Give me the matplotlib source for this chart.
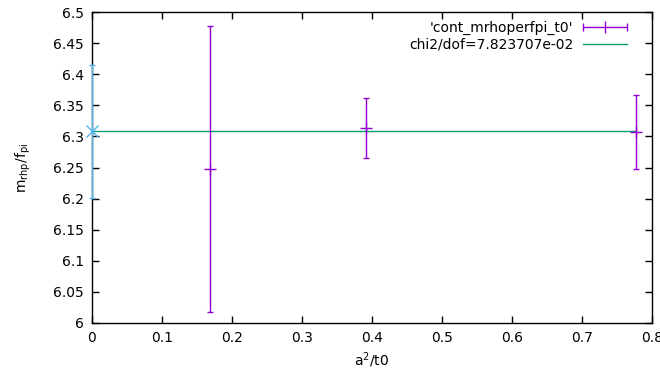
import matplotlib
matplotlib.use("Agg")
import matplotlib.pyplot as plt
from matplotlib.legend_handler import HandlerErrorbar
import numpy as np

x_data = [0.1686, 0.3915, 0.7775]
y_data = [6.248, 6.313, 6.307]
y_err = [0.230, 0.048, 0.060]

x_extrap = [0.0]
y_extrap = [6.308]
err_extrap = [0.107]

fit_x = [0.0, 0.7775]
fit_y = [6.308, 6.308]

xticks = [0, 0.1, 0.2, 0.3, 0.4, 0.5, 0.6, 0.7, 0.8]
yticks = [6, 6.05, 6.1, 6.15, 6.2, 6.25, 6.3, 6.35, 6.4, 6.45, 6.5]

fig = plt.figure(figsize=(6.6, 3.76), dpi=100)
ax = fig.add_axes([92/660, 53/376, 560/660, 311/376])

fit_line, = ax.plot(fit_x, fit_y, color="#009e73", lw=1.0, zorder=2)
ax.errorbar(x_data, y_data, yerr=y_err, fmt="+", color="#9400d3", ms=9, mew=1.0,
            elinewidth=1.0, capsize=2.5, capthick=1.0, zorder=3)
ax.errorbar(x_extrap, y_extrap, yerr=err_extrap, fmt="x", color="#56b4e9", ms=8, mew=1.0,
            elinewidth=1.0, capsize=2.5, capthick=1.0, zorder=4, clip_on=False)

# legend proxy: gnuplot-style horizontal errorbar sample
proxy = ax.errorbar([np.nan], [np.nan], xerr=[0.1], fmt="|", color="#9400d3", ms=8, mew=1.0,
                    elinewidth=1.0, capsize=3, capthick=1.0)

ax.set_xlim(0, 0.8)
ax.set_ylim(6.0, 6.5)
ax.set_xticks(xticks)
ax.set_xticklabels(["0", "0.1", "0.2", "0.3", "0.4", "0.5", "0.6", "0.7", "0.8"])
ax.set_yticks(yticks)
ax.set_yticklabels(["6", "6.05", "6.1", "6.15", "6.2", "6.25", "6.3", "6.35", "6.4", "6.45", "6.5"])
ax.tick_params(direction="in", top=True, right=True, length=5, width=1, labelsize=10, pad=6)
for s in ax.spines.values():
    s.set_linewidth(1.0)

ax.set_xlabel("a$^2$/t0", fontsize=10)
ax.set_ylabel("m$_{\\rm rhp}$/f$_{\\rm pi}$", fontsize=10, labelpad=14)

ax.legend([proxy, fit_line], ["'cont_mrhoperfpi_t0'", "chi2/dof=7.823707e-02"],
          loc="upper right", bbox_to_anchor=(0.966, 0.989), borderaxespad=0,
          frameon=False, markerfirst=False, fontsize=10, handlelength=3.2,
          labelspacing=0.2, handletextpad=0.7,
          handler_map={type(proxy): HandlerErrorbar(xerr_size=1.6, numpoints=1)})

fig.savefig("out.png", dpi=100)
